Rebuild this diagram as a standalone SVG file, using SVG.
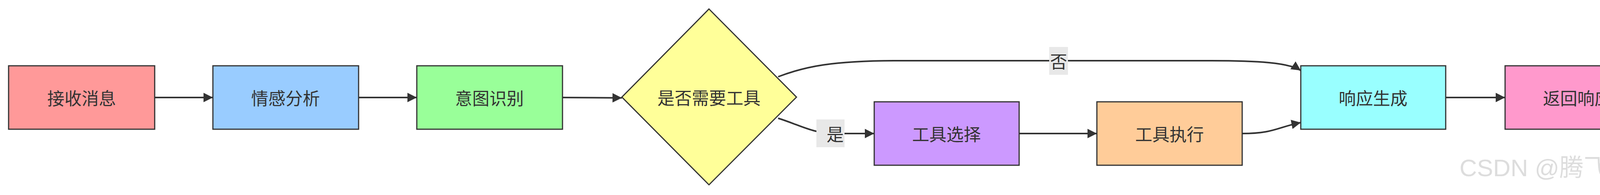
<svg xmlns="http://www.w3.org/2000/svg" width="4248" height="498" viewBox="0 0 4248 498">
<style>
.n{stroke:#333;stroke-width:3}
.t{font-family:"Noto Sans CJK SC","Liberation Sans",sans-serif;font-size:44px;fill:#333;text-anchor:middle;dominant-baseline:central}
.e{fill:none;stroke:#333;stroke-width:4;marker-end:url(#a)}
.lb{fill:#e8e8e8}
</style>
<defs><marker id="a" viewBox="0 0 10 10" refX="10" refY="5" markerWidth="6" markerHeight="6" orient="auto" markerUnits="strokeWidth"><path d="M0,0L10,5L0,10z" fill="#333"/></marker></defs>
<rect width="4248" height="498" fill="#fff"/>
<g id="connectors">
<path class="e" d="M396,249H545"/>
<path class="e" d="M918,249H1067"/>
<path class="e" d="M1440,249L1592,250"/>
<path class="e" d="M1992,196C2060,170 2130,155 2300,155H3100C3220,155 3300,160 3330,180"/>
<path class="e" d="M1992,302C2050,320 2080,341 2140,341H2238"/>
<path class="e" d="M2609,341H2808"/>
<path class="e" d="M3180,341C3260,341 3270,325 3330,313"/>
<path class="e" d="M3701,249H3853"/>
<rect class="lb" x="2686" y="120" width="48" height="71"/>
<text class="t" x="2710" y="155">否</text>
<rect class="lb" x="2090" y="305" width="72" height="71"/>
<text class="t" x="2138" y="341">是</text>
</g>
<g id="n1"><rect class="n" x="22" y="168" width="374" height="162" fill="#ff9999"/><text class="t" x="209" y="249">接收消息</text></g>
<g id="n2"><rect class="n" x="545" y="168" width="373" height="162" fill="#99ccff"/><text class="t" x="731" y="249">情感分析</text></g>
<g id="n3"><rect class="n" x="1067" y="168" width="373" height="162" fill="#99ff99"/><text class="t" x="1253" y="249">意图识别</text></g>
<g id="n4"><polygon class="n" points="1815,23 2039,248 1815,472 1592,248" fill="#ffff99"/><text class="t" x="1815" y="248">是否需要工具</text></g>
<g id="n5"><rect class="n" x="2238" y="260" width="371" height="162" fill="#cc99ff"/><text class="t" x="2423" y="341">工具选择</text></g>
<g id="n6"><rect class="n" x="2808" y="260" width="372" height="162" fill="#ffcc99"/><text class="t" x="2994" y="341">工具执行</text></g>
<g id="n7"><rect class="n" x="3330" y="168" width="371" height="162" fill="#99ffff"/><text class="t" x="3515" y="249">响应生成</text></g>
<g id="n8"><rect class="n" x="3853" y="168" width="371" height="162" fill="#ff99cc"/><text class="t" x="4038" y="249">返回响应</text></g>
<text x="4240" y="450" font-family="Liberation Sans,Noto Sans CJK SC,sans-serif" font-size="62" fill="#ddd" text-anchor="end">CSDN @腾飞开源</text>
</svg>
